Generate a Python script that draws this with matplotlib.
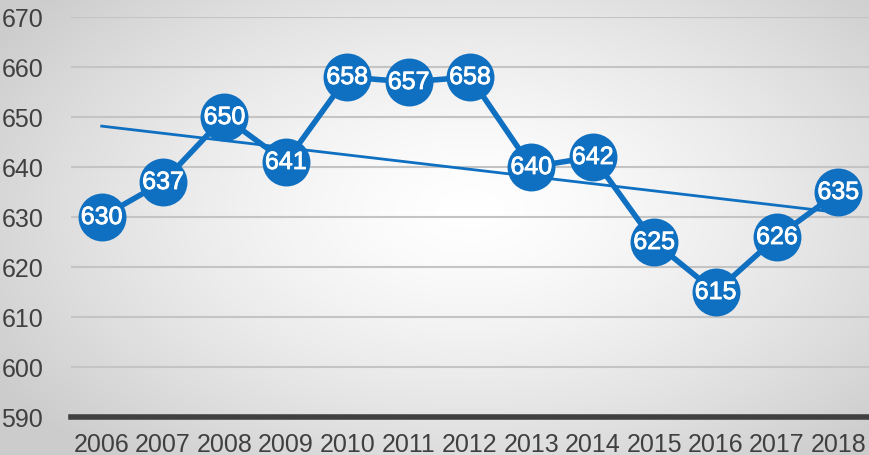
import numpy as np
import matplotlib
matplotlib.use("Agg")
import matplotlib.pyplot as plt
import matplotlib.patheffects as pe

years = ["2006", "2007", "2008", "2009", "2010", "2011", "2012",
         "2013", "2014", "2015", "2016", "2017", "2018"]
values = [630, 637, 650, 641, 658, 657, 658, 640, 642, 625, 615, 626, 635]
yticks = [590, 600, 610, 620, 630, 640, 650, 660, 670]

plt.rcParams['font.family'] = ['Liberation Sans', 'DejaVu Sans']

W, H = 869, 456
fig = plt.figure(figsize=(W / 100, H / 100), dpi=100)

# radial gradient background
bg = fig.add_axes([0, 0, 1, 1], zorder=0)
yy, xx = np.mgrid[0:H, 0:W]
cx, cy = 470, 210
r = np.sqrt(((xx - cx) / 560.0) ** 2 + ((yy - cy) / 330.0) ** 2)
r = np.clip(r, 0, 1)
shade = 1.0 - 0.20 * r ** 1.4
img = np.dstack([shade, shade, shade])
bg.imshow(img, extent=[0, 1, 0, 1], aspect='auto', origin='upper')
bg.axis('off')

ax = fig.add_axes([71 / W, 1 - 418 / H, 1 - 71 / W, (418 - 18) / H], zorder=1)
ax.patch.set_alpha(0)

x = np.arange(len(years))
blue = '#0f6fc0'

ax.set_ylim(590, 670)
ax.set_xlim(-0.5, len(years) - 0.5)
ax.set_yticks(yticks)
ax.yaxis.grid(True, color='#c4c4c4', linewidth=1.5)
ax.set_axisbelow(True)
for s in ['top', 'right', 'left']:
    ax.spines[s].set_visible(False)
ax.spines['bottom'].set_color('#404040')
ax.spines['bottom'].set_linewidth(4)
ax.spines['bottom'].set_zorder(2)
ax.tick_params(axis='both', length=0, labelsize=18, labelcolor='#404040')
ax.tick_params(axis='y', pad=20)
ax.tick_params(axis='x', pad=11)
ax.set_xticks(x)
ax.set_xticklabels(years)

coef = np.polyfit(x, values, 1)
trend = np.polyval(coef, x)
ax.plot(x, trend, color=blue, linewidth=2.0, zorder=3)

ax.plot(x, values, color=blue, linewidth=4.0, marker='o', markersize=34.5,
        markerfacecolor=blue, markeredgecolor=blue, markeredgewidth=0,
        zorder=4, clip_on=False)

for xi, v in zip(x, values):
    ax.text(xi, v, str(v), ha='center', va='center', color='white',
            fontsize=18, fontweight='normal', zorder=5,
            path_effects=[pe.withStroke(linewidth=0.6, foreground='white')])

fig.savefig('out.png', dpi=100)
